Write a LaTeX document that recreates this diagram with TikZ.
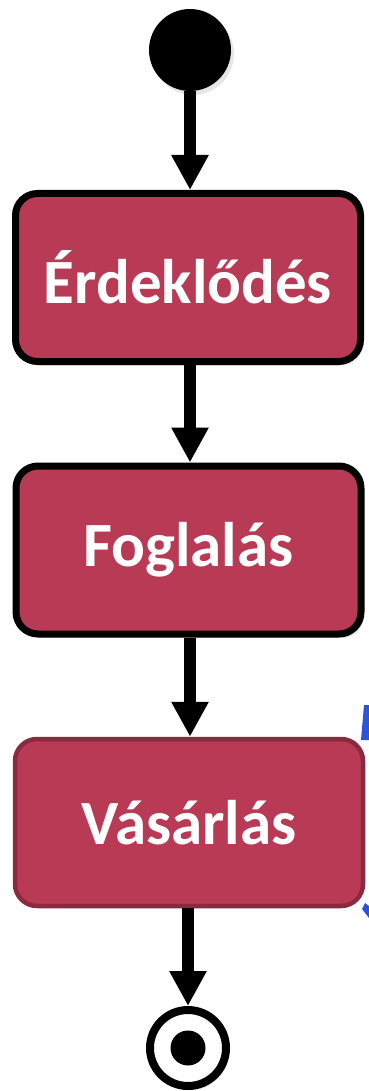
\documentclass[tikz,border=0pt]{standalone}
\usepackage{fontspec}
\setmainfont{Carlito}
\usetikzlibrary{arrows.meta,shadows}
\definecolor{boxfill}{HTML}{B83A55}
\definecolor{boxedge}{HTML}{8A2A3E}
\definecolor{markblue}{HTML}{2B55D6}
\tikzset{
  actbox/.style={rectangle, rounded corners=22pt, fill=boxfill, text=white,
    font=\fontsize{63}{65}\selectfont\bfseries, inner sep=0pt,
    minimum width=345pt, minimum height=168pt},
  softshadow/.style={drop shadow={opacity=0.2, shadow xshift=3pt, shadow yshift=-4pt}},
  flow/.style={line width=12pt, -{Triangle[width=35pt,length=35pt]}}
}
\begin{document}
\begin{tikzpicture}[x=1pt,y=-1pt]
\useasboundingbox (0,0) rectangle (369,1091);
\node[circle, fill=black, minimum size=82pt, inner sep=0pt, softshadow] (start) at (190,50) {};
\node[actbox, draw=black, line width=7pt, softshadow] (b1) at (188,277.5) {Érdeklődés};
\node[actbox, draw=black, line width=7pt, softshadow] (b2) at (188.5,550) {Foglalás};
\node[actbox, draw=boxedge, line width=4.5pt, minimum width=348pt, minimum height=167pt] (b3) at (189,822.5) {Vásárlás};
\node[circle, draw=black, fill=white, line width=8pt, minimum size=76pt, inner sep=0pt, softshadow] (end) at (188,1048) {};
\node[circle, fill=black, minimum size=35pt, inner sep=0pt] (enddot) at (end.center) {};
\draw[flow] (start.south) -- (start.south |- b1.north);
\draw[flow] (b1.south -| start.south) -- (start.south |- b2.north);
\draw[flow] (b2.south -| start.south) -- (start.south |- b3.north);
\draw[flow] (b3.south -| end.north) -- (end.north);
\fill[markblue] (364,705) -- (369,705) -- (369,740) -- (361,740) -- cycle;
\fill[markblue] (365,903) -- (369,906) -- (369,918) -- (362,909) -- cycle;
\end{tikzpicture}
\end{document}
